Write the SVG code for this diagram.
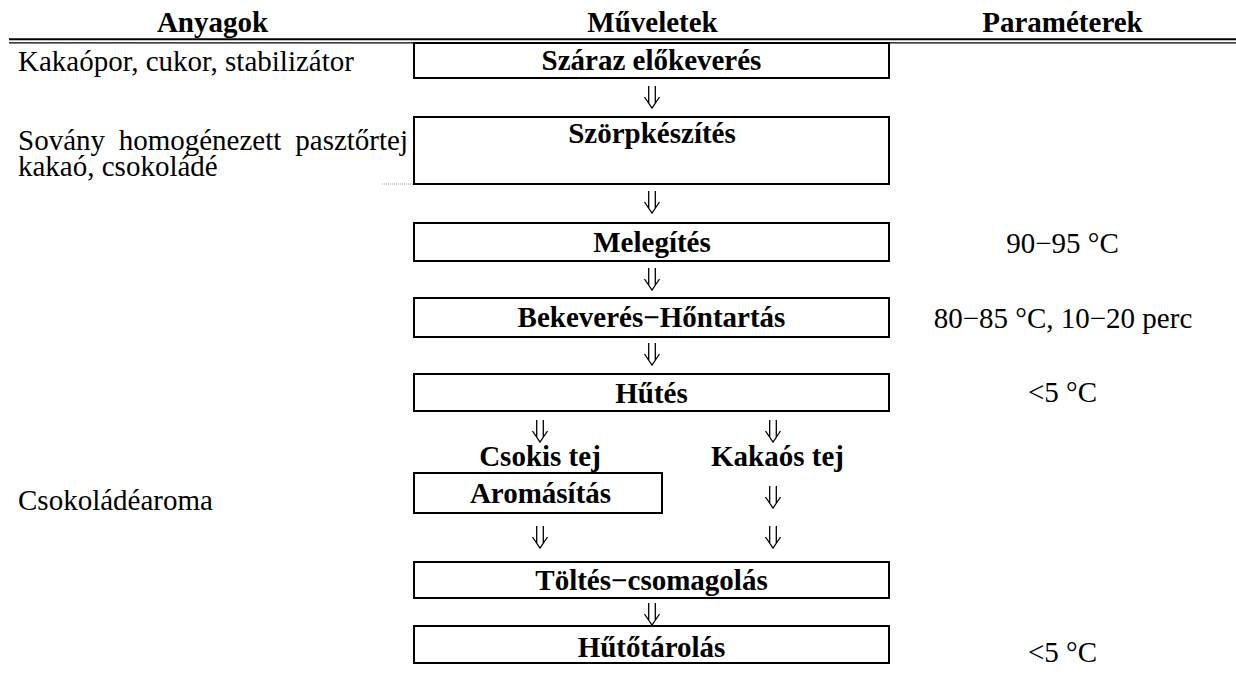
<svg xmlns="http://www.w3.org/2000/svg" width="1236" height="674" viewBox="0 0 1236 674">
<style>
text{font-family:"Liberation Serif","Times New Roman",serif;font-size:29px;fill:#000}
.b{font-weight:bold}
.c{text-anchor:middle}
.box{fill:#fff;stroke:#000;stroke-width:2}
.arr{fill:none;stroke:#000;stroke-width:1.3}
</style>
<defs>
<path id="dn" d="M-3.3,0V17.3M3.3,0V17.3M-7.5,11L0,22L7.5,11"/>
</defs>
<rect width="1236" height="674" fill="#fff"/>
<g id="header">
<text class="b c" x="212.5" y="32">Anyagok</text>
<text class="b c" x="652.5" y="32">Műveletek</text>
<text class="b c" x="1062.5" y="32">Paraméterek</text>
<line x1="9" y1="39.3" x2="1236" y2="39.3" stroke="#000" stroke-width="2"/>
<line x1="9" y1="42.9" x2="1236" y2="42.9" stroke="#000" stroke-width="1.4"/>
</g>
<g id="materials">
<text x="18" y="71">Kakaópor, cukor, stabilizátor</text>
<text x="18" y="149.5">Sovány<tspan x="118.7">homogénezett</tspan><tspan x="408" text-anchor="end">pasztőrtej</tspan></text>
<text x="18" y="176">kakaó, csokoládé</text>
<line x1="382" y1="184" x2="413" y2="184" stroke="#999" stroke-width="1" stroke-dasharray="1 1"/>
<text x="18" y="510">Csokoládéaroma</text>
</g>
<g id="n1"><rect class="box" x="414" y="43" width="475" height="35"/><text class="b c" x="651.5" y="70">Száraz előkeverés</text></g>
<g id="n2"><rect class="box" x="414" y="117" width="475" height="67"/><text class="b c" x="652" y="143">Szörpkészítés</text></g>
<g id="n3"><rect class="box" x="414" y="223" width="475" height="38"/><text class="b c" x="652" y="252">Melegítés</text></g>
<g id="n4"><rect class="box" x="414" y="298" width="475" height="39"/><text class="b c" x="651.5" y="327">Bekeverés−Hőntartás</text></g>
<g id="n5"><rect class="box" x="414" y="374" width="475" height="37"/><text class="b c" x="651.5" y="403">Hűtés</text></g>
<g id="l1"><text class="b c" x="540" y="466">Csokis tej</text></g>
<g id="l2"><text class="b c" x="777.5" y="466">Kakaós tej</text></g>
<g id="n6"><rect class="box" x="414" y="473" width="248" height="40"/><text class="b c" x="540.5" y="503">Aromásítás</text></g>
<g id="n7"><rect class="box" x="414" y="562" width="475" height="36"/><text class="b c" x="651.5" y="590">Töltés−csomagolás</text></g>
<g id="n8"><rect class="box" x="414" y="626" width="475" height="37"/><text class="b c" x="651.5" y="657">Hűtőtárolás</text></g>
<g id="params">
<text class="c" x="1062.5" y="253">90−95 °C</text>
<text class="c" x="1063" y="328">80−85 °C, 10−20 perc</text>
<text class="c" x="1062.5" y="402">&lt;5 °C</text>
<text class="c" x="1062.5" y="662">&lt;5 °C</text>
</g>
<g id="connectors" class="arr">
<use href="#dn" x="652" y="86"/>
<use href="#dn" x="652" y="191"/>
<use href="#dn" x="652" y="268"/>
<use href="#dn" x="652" y="343"/>
<use href="#dn" x="540" y="420"/>
<use href="#dn" x="773" y="420"/>
<use href="#dn" x="773" y="486"/>
<use href="#dn" x="540" y="526"/>
<use href="#dn" x="773" y="526"/>
<use href="#dn" x="652" y="603"/>
</g>
</svg>
